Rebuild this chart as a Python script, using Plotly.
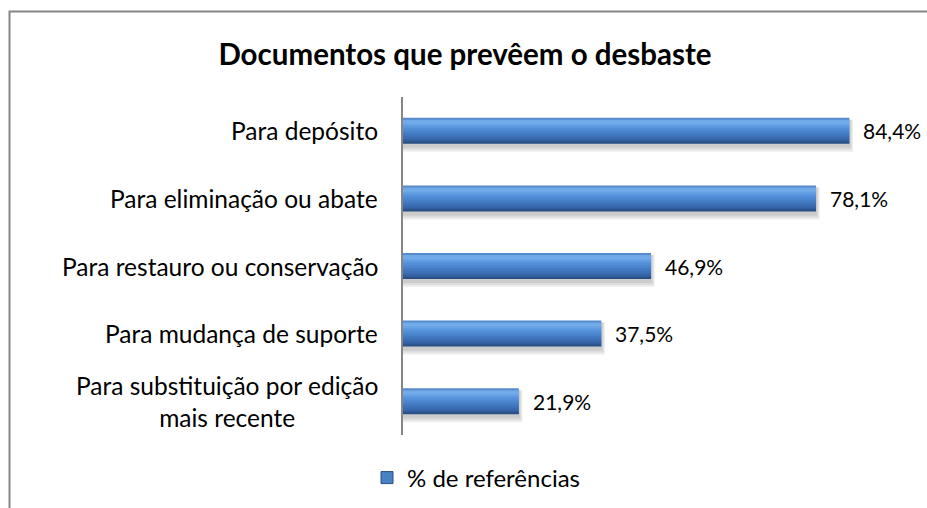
import plotly.graph_objects as go

# ---- data ----
categories = [
    "Para depósito",
    "Para eliminação ou abate",
    "Para restauro ou conservação",
    "Para mudança de suporte",
    "Para substituição por edição<br>mais recente",
]
values = [84.4, 78.1, 46.9, 37.5, 21.9]
series_name = "% de referências"
title_text = "Documentos que prevêem o desbaste"

# ---- layout constants ----
W, H = 927, 508
L, R, T, B = 403, 48, 97, 73
XMAX = 90
FONT = "Lato"
band_px = (H - T - B) / len(categories)
bar_px = 26
bw = bar_px / band_px            # bar thickness in category units
px = 1 / band_px                 # one pixel in category units
xpx = XMAX / (W - L - R)         # one pixel in x units

fig = go.Figure()

# shadow layers
for k in range(3):
    fig.add_trace(go.Bar(
        x=[v + (k + 1) * 1.2 * xpx for v in values], y=categories, orientation="h",
        width=bw + (k + 1) * 2 * px, offset=-bw / 2 + 2 * px,
        marker=dict(color="rgba(0,0,0,0.07)", line=dict(width=0)),
        showlegend=False, hoverinfo="skip",
    ))

# gradient stripes (top -> bottom)
stops = [
    (0.00, (56, 100, 162)),
    (0.06, (104, 160, 226)),
    (0.16, (120, 176, 236)),
    (0.38, (86, 146, 220)),
    (0.62, (68, 124, 196)),
    (0.85, (54, 100, 166)),
    (0.95, (44, 84, 140)),
    (1.00, (32, 62, 104)),
]


def col(t):
    for (t0, c0), (t1, c1) in zip(stops, stops[1:]):
        if t <= t1:
            f = (t - t0) / (t1 - t0) if t1 > t0 else 0
            c = [round(a + (b - a) * f) for a, b in zip(c0, c1)]
            return "rgb(%d,%d,%d)" % tuple(c)
    return "rgb(%d,%d,%d)" % stops[-1][1]


N = 13
for i in range(N):
    t = (i + 0.5) / N
    extra = 0 if i == N - 1 else 1.2 * px
    fig.add_trace(go.Bar(
        x=values, y=categories, orientation="h",
        width=bw / N + extra, offset=-bw / 2 + i * bw / N,
        marker=dict(color=col(t), line=dict(width=0)),
        showlegend=False, hoverinfo="skip",
    ))

# legend entry
fig.add_trace(go.Bar(
    x=[None], y=[None], orientation="h", name=series_name,
    marker=dict(color="#4A80C4", line=dict(color="#2A4E80", width=1)),
    showlegend=True,
))

annotations = []
# value labels
for c, v in zip(categories, values):
    annotations.append(dict(
        x=v, y=c, xref="x", yref="y", text=f"{v:.1f}%".replace(".", ","),
        showarrow=False, xanchor="left", yanchor="middle", xshift=12,
        font=dict(family=FONT, size=21, color="#000000"),
    ))
# category labels
for c in categories:
    annotations.append(dict(
        x=0, y=c, xref="paper", yref="y", text=c, align="center",
        showarrow=False, xanchor="right", yanchor="middle", xshift=-23,
        font=dict(family=FONT, size=24.5, color="#000000"),
    ))

# chart border (top & left visible)
pw, ph = W - L - R, H - T - B
bx0 = (9.5 - L) / pw
by1 = (H - B - 11.5) / ph
shapes = [dict(type="rect", xref="paper", yref="paper",
               x0=bx0, x1=(W + 10 - L) / pw, y0=(H - B - (H + 10)) / ph, y1=by1,
               line=dict(color="#868686", width=2), fillcolor="rgba(0,0,0,0)")]

fig.update_layout(
    width=W, height=H,
    margin=dict(l=L, r=R, t=T, b=B),
    paper_bgcolor="white", plot_bgcolor="white",
    barmode="overlay",
    title=dict(text="<b>" + title_text + "</b>", x=465 / W, xanchor="center",
               y=1 - 55 / H, yanchor="middle",
               font=dict(family=FONT, size=29.5, color="#000000")),
    xaxis=dict(range=[0, XMAX], showgrid=False, zeroline=False, showticklabels=False,
               ticks="", showline=False),
    yaxis=dict(type="category", categoryorder="array", categoryarray=categories,
               autorange="reversed", showgrid=False, zeroline=False,
               showticklabels=False, ticks="", showline=True,
               linecolor="#868686", linewidth=2),
    legend=dict(orientation="h", xref="container", yref="container",
                x=367 / W, xanchor="left", y=1 - 478 / H, yanchor="middle",
                font=dict(family=FONT, size=24, color="#000000"),
                itemwidth=30, tracegroupgap=0),
    annotations=annotations,
    shapes=shapes,
)

fig.write_html(
    "out.html",
    config={"displayModeBar": False},
    post_script="document.body.style.margin='0';document.body.style.overflow='hidden';",
)
